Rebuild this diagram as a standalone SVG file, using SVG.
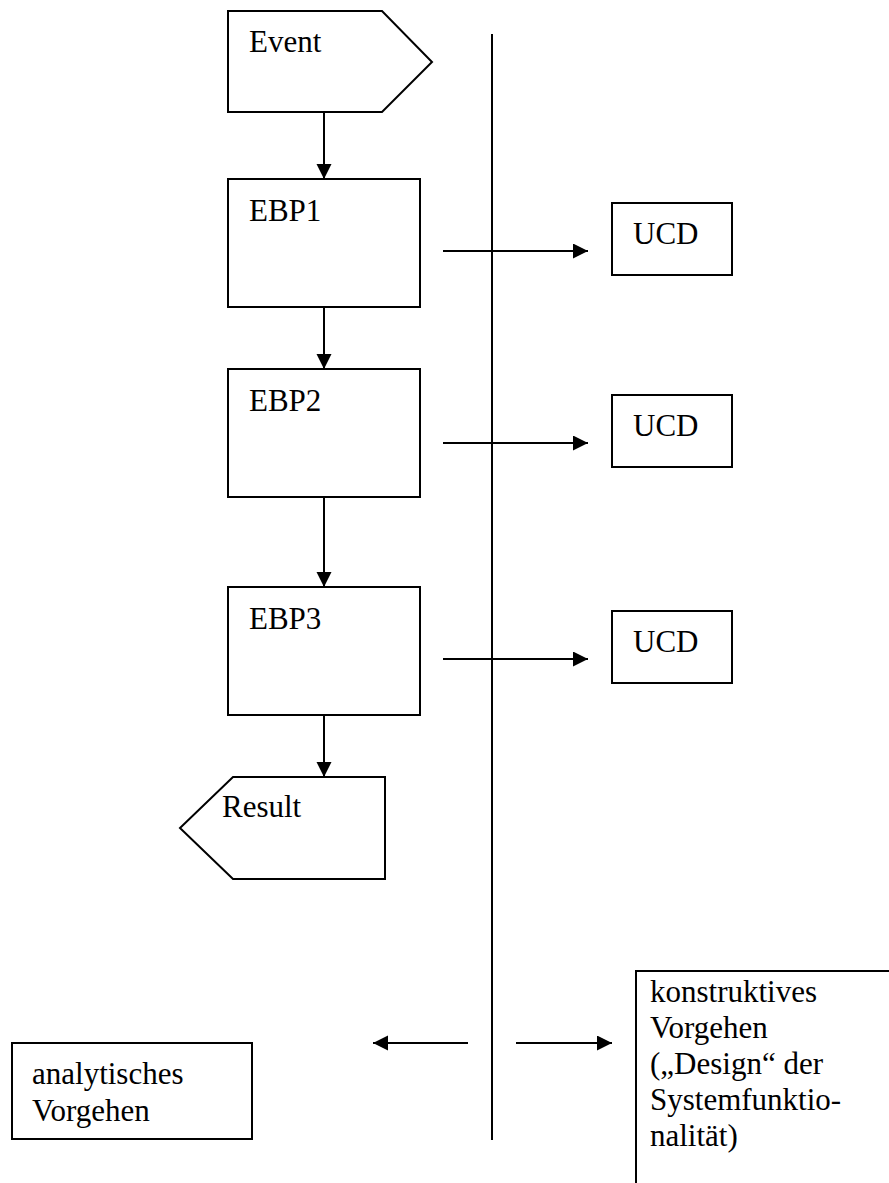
<svg xmlns="http://www.w3.org/2000/svg" width="889" height="1183" viewBox="0 0 889 1183">
  <style>
    .shape { fill: #ffffff; stroke: #000000; stroke-width: 2; }
    .line { fill: none; stroke: #000000; stroke-width: 2; }
    .label { font-family: 'Liberation Serif', Tinos, 'Times New Roman', 'DejaVu Serif', serif; font-size: 31px; fill: #000000; }
  </style>
  <defs>
    <marker id="arrow" markerUnits="userSpaceOnUse" markerWidth="16" markerHeight="16" refX="15" refY="7.5" orient="auto">
      <path d="M0,0 L15,7.5 L0,15 Z" fill="#000000"/>
    </marker>
  </defs>

  <rect width="889" height="1183" fill="#ffffff"/>

  <!-- connectors -->
  <g id="connectors">
    <line class="line" x1="492" y1="34" x2="492" y2="1140"/>
    <line class="line" x1="324" y1="107" x2="324" y2="179" marker-end="url(#arrow)"/>
    <line class="line" x1="324" y1="298" x2="324" y2="369" marker-end="url(#arrow)"/>
    <line class="line" x1="324" y1="491" x2="324" y2="587" marker-end="url(#arrow)"/>
    <line class="line" x1="324" y1="707" x2="324" y2="777" marker-end="url(#arrow)"/>
    <line class="line" x1="443" y1="251" x2="588" y2="251" marker-end="url(#arrow)"/>
    <line class="line" x1="443" y1="443" x2="588" y2="443" marker-end="url(#arrow)"/>
    <line class="line" x1="443" y1="659" x2="588" y2="659" marker-end="url(#arrow)"/>
    <line class="line" x1="468" y1="1043" x2="373" y2="1043" marker-end="url(#arrow)"/>
    <line class="line" x1="516" y1="1043" x2="612" y2="1043" marker-end="url(#arrow)"/>
  </g>

  <!-- flow nodes -->
  <g id="event">
    <polygon class="shape" points="228,11 382,11 432,62 382,112 228,112"/>
    <text class="label" x="249" y="52">Event</text>
  </g>
  <g id="ebp1">
    <rect class="shape" x="228" y="179" width="192" height="128"/>
    <text class="label" x="249" y="221">EBP1</text>
  </g>
  <g id="ebp2">
    <rect class="shape" x="228" y="369" width="192" height="128"/>
    <text class="label" x="249" y="411">EBP2</text>
  </g>
  <g id="ebp3">
    <rect class="shape" x="228" y="587" width="192" height="128"/>
    <text class="label" x="249" y="629">EBP3</text>
  </g>
  <g id="result">
    <polygon class="shape" points="233,777 385,777 385,879 233,879 180,828"/>
    <text class="label" x="222" y="817">Result</text>
  </g>

  <!-- use case diagram nodes -->
  <g id="ucd1">
    <rect class="shape" x="612" y="203" width="120" height="72"/>
    <text class="label" x="633" y="244">UCD</text>
  </g>
  <g id="ucd2">
    <rect class="shape" x="612" y="395" width="120" height="72"/>
    <text class="label" x="633" y="436">UCD</text>
  </g>
  <g id="ucd3">
    <rect class="shape" x="612" y="611" width="120" height="72"/>
    <text class="label" x="633" y="652">UCD</text>
  </g>

  <!-- direction legend -->
  <g id="analytisch">
    <rect class="shape" x="12" y="1043" width="240" height="96"/>
    <text class="label" x="32" y="1084">analytisches</text>
    <text class="label" x="32" y="1121">Vorgehen</text>
  </g>
  <g id="konstruktiv">
    <rect class="shape" x="636" y="971" width="270" height="230"/>
    <text class="label" x="650" y="1002">konstruktives</text>
    <text class="label" x="650" y="1038">Vorgehen</text>
    <text class="label" x="650" y="1074">(„Design“ der</text>
    <text class="label" x="650" y="1110">Systemfunktio-</text>
    <text class="label" x="650" y="1146">nalität)</text>
  </g>
</svg>
